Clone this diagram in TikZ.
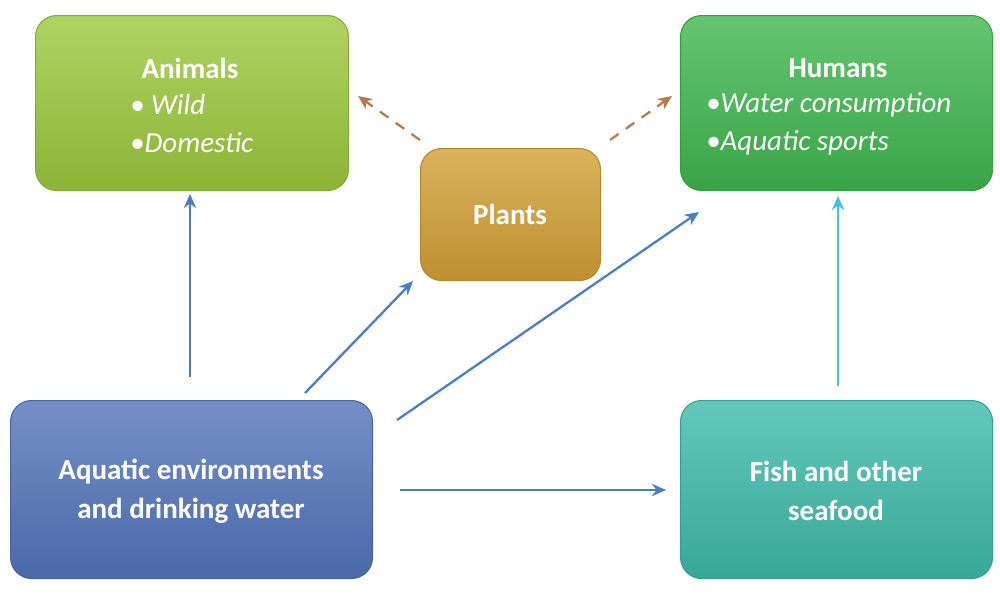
\documentclass[tikz,border=0pt]{standalone}
\usepackage{fontspec}
\setmainfont{Carlito}
\usetikzlibrary{arrows.meta}
\definecolor{cA}{HTML}{9CC83C}\definecolor{cH}{HTML}{3FB64E}
\definecolor{cP}{HTML}{D2A035}\definecolor{cW}{HTML}{5274BA}
\definecolor{cF}{HTML}{3DBAAA}\definecolor{ar}{HTML}{4A7EC2}
\definecolor{ar2}{HTML}{3EC0EA}\definecolor{br}{HTML}{B87A4A}
\begin{document}
\begin{tikzpicture}[x=0.02cm,y=-0.02cm,
 box/.style={draw=#1!85!black,line width=0.6pt,top color=#1!80!white,bottom color=#1!90!black,rounded corners=12pt,anchor=north west,inner sep=0},
 txt/.style={text=white,font=\fontsize{16.5}{22}\selectfont\bfseries,align=center},
 it/.style={text=white,font=\fontsize{16.5}{20}\selectfont\itshape,anchor=west},
 arr/.style={draw=ar,line width=1.3pt,-{Stealth[length=8pt,width=7pt]}},
 dsh/.style={draw=br,line width=1.3pt,dashed,dash pattern=on 6pt off 5pt,-{Stealth[length=8pt,width=7pt]}}]
\useasboundingbox (0,0) rectangle (1000,599);
\node[box=cA,minimum width=313*0.02cm,minimum height=175*0.02cm] (an) at (35,15) {};
\node[box=cH,minimum width=312*0.02cm,minimum height=175*0.02cm] (hu) at (680,15) {};
\node[box=cP,minimum width=180*0.02cm,minimum height=132*0.02cm] (pl) at (420,148) {};
\node[box=cW,minimum width=362*0.02cm,minimum height=178*0.02cm] (aq) at (10,400) {};
\node[box=cF,minimum width=312*0.02cm,minimum height=178*0.02cm] (fi) at (680,400) {};
\node[txt] (t1) at (190,68) {Animals};
\node[it] (t2) at (124,105) {\textbullet\ Wild};
\node[it] (t3) at (124,143) {\textbullet Domestic};
\node[txt] (t4) at (838,68) {Humans};
\node[it] (t5) at (700,105) {\textbullet Water consumption};
\node[it] (t6) at (700,143) {\textbullet Aquatic sports};
\node[txt] (t7) at (510,214) {Plants};
\node[txt] (t8) at (191,491) {Aquatic environments\\and drinking water};
\node[txt] (t9) at (836,491) {Fish and other\\seafood};
\coordinate (a1) at (190,377);\coordinate (a2) at (190,194);
\coordinate (b1) at (305,393);\coordinate (b2) at (413,281);
\coordinate (c1) at (397,420);\coordinate (c2) at (699,212);
\coordinate (d1) at (400,490);\coordinate (d2) at (666,490);
\coordinate (e1) at (838,386);\coordinate (e2) at (838,196);
\coordinate (f1) at (420,140);\coordinate (f2) at (358,96);
\coordinate (g1) at (610,140);\coordinate (g2) at (672,96);
\draw[arr] (a1)--(a2);\draw[arr] (b1)--(b2);\draw[arr] (c1)--(c2);\draw[arr] (d1)--(d2);
\draw[arr,draw=ar2] (e1)--(e2);
\draw[dsh] (f1)--(f2);\draw[dsh] (g1)--(g2);
\end{tikzpicture}
\end{document}
